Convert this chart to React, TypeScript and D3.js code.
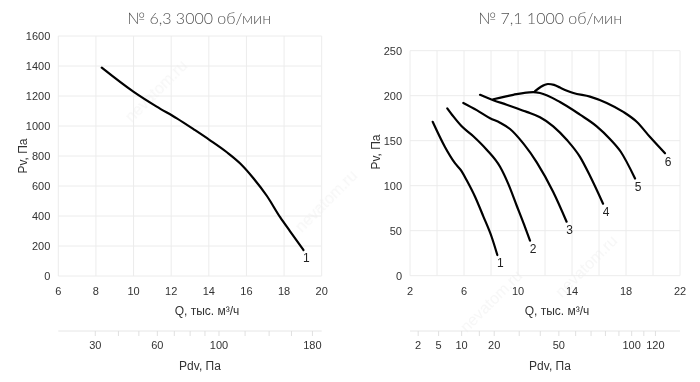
import React from "react";
import * as d3 from "d3";

// ---------- data ----------
const leftTitle = "№ 6,3 3000 об/мин";
const rightTitle = "№ 7,1  1000 об/мин";

const leftXTicks = [6, 8, 10, 12, 14, 16, 18, 20];
const leftYTicks = [0, 200, 400, 600, 800, 1000, 1200, 1400, 1600];
const leftPdvTicks = [30, 40, 50, 60, 70, 80, 90, 100, 120, 140, 160, 180];
const leftPdvLabels = [30, 60, 100, 180];
const leftPdvK = 0.473;

const rightXGrid = [2, 4, 6, 8, 10, 12, 14, 16, 18, 20, 22];
const rightXLabels = [2, 6, 10, 14, 18, 22];
const rightYTicks = [0, 50, 100, 150, 200, 250];
const rightPdvTicks = [2, 5, 10, 15, 20, 30, 40, 50, 60, 70, 80, 90, 100, 110, 120];
const rightPdvLabels = [2, 5, 10, 20, 50, 100, 120];
const rightPdvK = 0.2947;

// Left chart curve 1
const leftCurveQ = [8.31, 9.99, 11.23, 12.3, 13.27, 14.03, 14.96, 15.67, 16.37, 17.08, 17.79, 18.32, 19.03];
const leftCurveP = [1389, 1229, 1129, 1051, 972, 908, 825, 750, 652, 535, 392, 298, 173];

// Right chart curves 1..6
const r1Q = [3.68, 4.59, 5.33, 5.83, 6.2, 6.81, 7.43, 8.05, 8.47];
const r1P = [171, 143, 125, 116, 106, 88, 66, 43, 23];
const r2Q = [4.76, 5.21, 5.83, 6.69, 7.68, 8.67, 9.28, 9.9, 10.52, 10.89];
const r2P = [186, 177, 166, 155, 140, 121, 102, 78, 54, 39];
const r3Q = [5.95, 6.94, 7.93, 8.67, 9.41, 10.39, 11.39, 12.61, 13.6];
const r3P = [192, 184, 175, 170, 163, 147, 126, 93, 60];
const r4Q = [7.19, 8.17, 9.16, 10.64, 11.63, 12.61, 13.61, 14.59, 15.33, 16.3];
const r4P = [201, 195, 190, 182, 176, 166, 151, 132, 111, 80];
const r5Q = [8.17, 9.65, 11.13, 11.63, 13.11, 14.59, 15.83, 16.81, 17.6, 18.67];
const r5P = [196, 201, 204, 203, 193, 179, 166, 152, 138, 108];
const r6Q = [11.26, 11.7, 12.22, 12.67, 13.11, 14.1, 15.33, 16.57, 17.8, 18.79, 19.78, 20.89];
const r6P = [205, 210, 213, 212, 209, 203, 199, 192, 182, 171, 154, 136];

const rightCurves = [
  { name: "1", q: r1Q, p: r1P },
  { name: "2", q: r2Q, p: r2P },
  { name: "3", q: r3Q, p: r3P },
  { name: "4", q: r4Q, p: r4P },
  { name: "5", q: r5Q, p: r5P },
  { name: "6", q: r6Q, p: r6P },
];
const leftCurves = [{ name: "1", q: leftCurveQ, p: leftCurveP }];

// ---------- styles ----------
const tickFont = "'Liberation Sans', Arial, sans-serif";
const titleFont = "Lato, 'Open Sans', sans-serif";
const gridColor = "#ececec";
const textColor = "#333";

type Curve = { name: string; q: number[]; p: number[] };

type PanelProps = {
  title: string;
  titleX: number;
  x0: number;
  x1: number;
  y0: number;
  y1: number;
  xDomain: [number, number];
  yDomain: [number, number];
  xGrid: number[];
  xLabels: number[];
  yTicks: number[];
  pdvTicks: number[];
  pdvLabels: number[];
  pdvK: number;
  curves: Curve[];
  qLabelX: number;
  pdvLabelX: number;
  pvLabelX: number;
  pvLabelY: number;
};

function Panel(props: PanelProps) {
  const x = d3.scaleLinear().domain(props.xDomain).range([props.x0, props.x1]);
  const y = d3.scaleLinear().domain(props.yDomain).range([props.y1, props.y0]);
  const pdvX = (v: number) => x(Math.sqrt(v / props.pdvK));
  const line = d3
    .line<[number, number]>()
    .x((d) => x(d[0]))
    .y((d) => y(d[1]))
    .curve(d3.curveMonotoneX);
  const pdvLineY = 331;
  return (
    <g>
      <text
        x={props.titleX}
        y={24}
        textAnchor="middle"
        fontFamily={titleFont}
        fontWeight={300}
        fontSize={16}
        fill="#555"
      >
        {props.title}
      </text>
      {/* grid */}
      {props.xGrid.map((t) => (
        <line key={"gx" + t} x1={x(t)} x2={x(t)} y1={props.y0} y2={props.y1} stroke={gridColor} strokeWidth={1} />
      ))}
      {props.yTicks.map((t) => (
        <line key={"gy" + t} x1={props.x0} x2={props.x1} y1={y(t)} y2={y(t)} stroke={gridColor} strokeWidth={1} />
      ))}
      {/* y tick labels */}
      {props.yTicks.map((t) => (
        <text
          key={"ty" + t}
          x={props.x0 - 8}
          y={y(t)}
          dy="0.35em"
          textAnchor="end"
          fontFamily={tickFont}
          fontSize={11}
          fill={textColor}
        >
          {t}
        </text>
      ))}
      {/* x tick labels */}
      {props.xLabels.map((t) => (
        <text
          key={"tx" + t}
          x={x(t)}
          y={291}
          dy="0.35em"
          textAnchor="middle"
          fontFamily={tickFont}
          fontSize={11}
          fill={textColor}
        >
          {t}
        </text>
      ))}
      <text
        x={props.qLabelX}
        y={311}
        dy="0.35em"
        textAnchor="middle"
        fontFamily={tickFont}
        fontSize={12}
        fill={textColor}
      >
        Q, тыс. м³/ч
      </text>
      <text
        transform={`translate(${props.pvLabelX},${props.pvLabelY}) rotate(-90)`}
        dy="0.35em"
        textAnchor="middle"
        fontFamily={tickFont}
        fontSize={12}
        fill={textColor}
      >
        Pv, Па
      </text>
      {/* Pdv axis */}
      <line x1={props.x0} x2={props.x1} y1={pdvLineY} y2={pdvLineY} stroke="#e6e6e6" strokeWidth={1} />
      {props.pdvTicks.map((t) => (
        <line key={"pt" + t} x1={pdvX(t)} x2={pdvX(t)} y1={pdvLineY} y2={pdvLineY + 5} stroke="#e0e0e0" strokeWidth={1} />
      ))}
      {props.pdvLabels.map((t) => (
        <text
          key={"pl" + t}
          x={pdvX(t)}
          y={345}
          dy="0.35em"
          textAnchor="middle"
          fontFamily={tickFont}
          fontSize={11}
          fill={textColor}
        >
          {t}
        </text>
      ))}
      <text
        x={props.pdvLabelX}
        y={366}
        dy="0.35em"
        textAnchor="middle"
        fontFamily={tickFont}
        fontSize={12}
        fill={textColor}
      >
        Pdv, Па
      </text>
      {/* curves */}
      {props.curves.map((c) => {
        const pts: [number, number][] = c.q.map((q, i) => [q, c.p[i]]);
        const last = pts[pts.length - 1];
        return (
          <g key={"c" + c.name}>
            <path d={line(pts) || ""} fill="none" stroke="#000" strokeWidth={2.2} strokeLinecap="round" strokeLinejoin="round" />
            <text
              x={x(last[0]) + 3}
              y={y(last[1]) + 8}
              dy="0.35em"
              textAnchor="middle"
              fontFamily={tickFont}
              fontSize={12}
              fill="#222"
            >
              {c.name}
            </text>
          </g>
        );
      })}
    </g>
  );
}

function Watermark() {
  const marks = [
    { x: 160, y: 95 },
    { x: 330, y: 205 },
    { x: 495, y: 305 },
    { x: 590, y: 270 },
  ];
  return (
    <g opacity={0.5}>
      {marks.map((m, i) => (
        <text
          key={i}
          transform={`translate(${m.x},${m.y}) rotate(-45)`}
          textAnchor="middle"
          fontFamily={tickFont}
          fontSize={16}
          fill="#eee"
        >
          nevatom.ru
        </text>
      ))}
    </g>
  );
}

export default function App() {
  return (
    <svg
      width={700}
      height={382}
      style={{ position: "absolute", left: 0, top: 0, background: "#fff" }}
    >
      <rect x={0} y={0} width={700} height={382} fill="#fff" />
      <Watermark />
      <Panel
        title={leftTitle}
        titleX={199}
        x0={58.3}
        x1={321.7}
        y0={36}
        y1={276}
        xDomain={[6, 20]}
        yDomain={[0, 1600]}
        xGrid={leftXTicks}
        xLabels={leftXTicks}
        yTicks={leftYTicks}
        pdvTicks={leftPdvTicks}
        pdvLabels={leftPdvLabels}
        pdvK={leftPdvK}
        curves={leftCurves}
        qLabelX={207}
        pdvLabelX={200}
        pvLabelX={23}
        pvLabelY={156}
      />
      <Panel
        title={rightTitle}
        titleX={550}
        x0={410}
        x1={680}
        y0={50.7}
        y1={275.7}
        xDomain={[2, 22]}
        yDomain={[0, 250]}
        xGrid={rightXGrid}
        xLabels={rightXLabels}
        yTicks={rightYTicks}
        pdvTicks={rightPdvTicks}
        pdvLabels={rightPdvLabels}
        pdvK={rightPdvK}
        curves={rightCurves}
        qLabelX={557}
        pdvLabelX={550}
        pvLabelX={376}
        pvLabelY={152}
      />
    </svg>
  );
}
